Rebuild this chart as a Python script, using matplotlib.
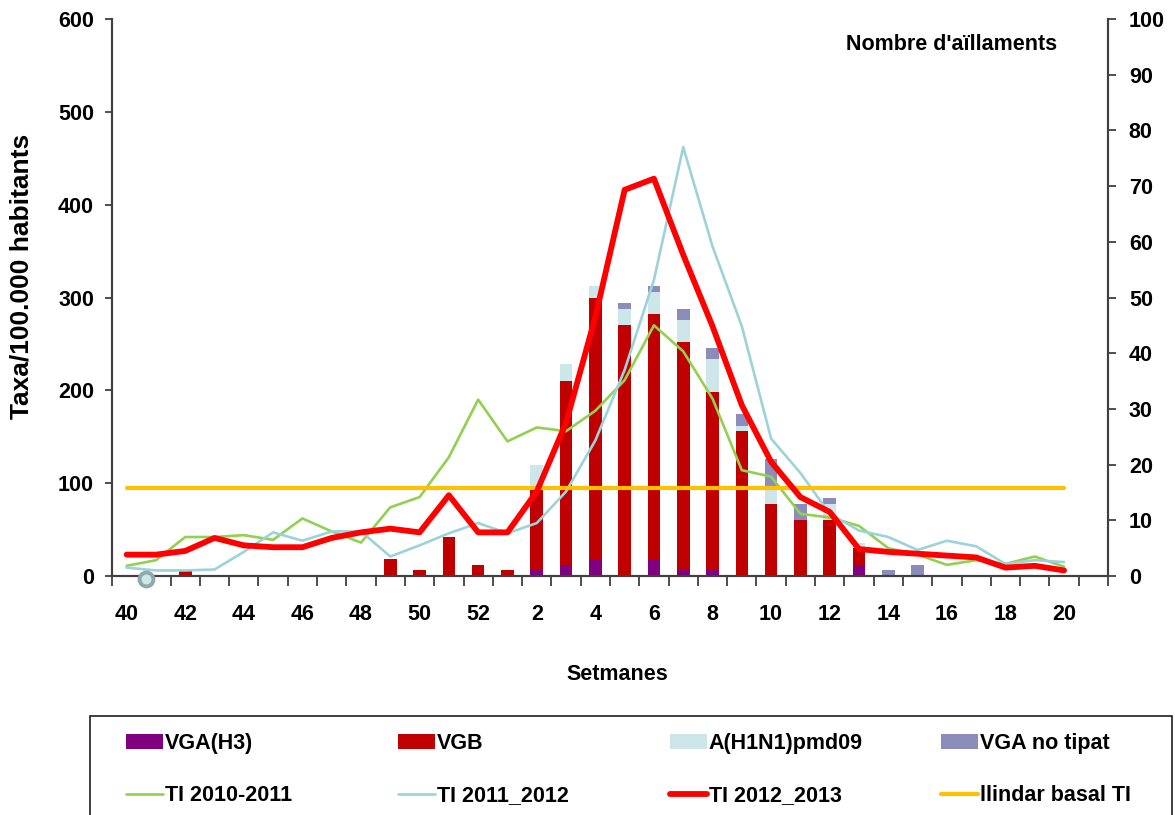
import numpy as np
import matplotlib
matplotlib.use('Agg')
import matplotlib.pyplot as plt
from matplotlib.patches import Rectangle

plt.rcParams['font.family'] = ['Liberation Sans', 'DejaVu Sans']
plt.rcParams['font.weight'] = 'bold'

# weeks 40-52 of 2012 and 1-21 of 2013 (week 21 is an empty slot)
weeks = list(range(40, 53)) + list(range(1, 22))

# rates per 100.000 inhabitants, weeks 40..20
ti_2010_2011 = [11, 17, 42, 42, 44, 39, 62, 48, 36, 74, 85, 128, 190,
                145, 160, 156, 178, 211, 270, 242, 191, 114, 107,
                67, 63, 54, 30, 23, 12, 17, 13, 21, 10]
ti_2011_2012 = [9, 6, 6, 7, 26, 47, 38, 48, 48, 21, 33, 46, 57,
                46, 57, 91, 146, 222, 319, 462, 355, 269, 148,
                111, 67, 49, 42, 28, 38, 32, 13, 17, 15]
ti_2012_2013 = [23, 23, 27, 41, 33, 31, 31, 41, 47, 51, 47, 87, 47,
                47, 91, 165, 279, 416, 428, 346, 269, 184, 123,
                85, 69, 29, 26, 24, 22, 20, 9, 11, 6]
basal = [95] * 33

# number of isolates, weeks 40..20
vga_h3 = [0] * 14 + [1, 2, 3, 0, 3, 1, 1, 0, 0, 0, 0, 2, 0, 0, 0, 0, 0, 0, 0]
vgb = [0, 0, 1, 0, 0, 0, 0, 0, 0, 3, 1, 7, 2, 1,
       15, 33, 47, 45, 44, 41, 32, 26, 13, 10, 10, 3, 0, 0, 0, 0, 0, 0, 0]
h1n1 = [0] * 14 + [4, 3, 2, 3, 4, 4, 6, 1, 3, 0, 3, 1, 0, 0, 0, 0, 0, 0, 0]
vga_nt = [0] * 14 + [0, 0, 0, 1, 1, 2, 2, 2, 5, 3, 1, 0, 1, 2, 0, 0, 0, 0, 0]

stray_x = [0.66]
stray_y = [-3]

fig = plt.figure(figsize=(11.75, 8.15), dpi=100)
ax = fig.add_axes([112 / 1175, 1 - 576 / 815, 996 / 1175, 557 / 815])
ax2 = ax.twinx()
ax.set_zorder(ax2.get_zorder() + 1)
ax.patch.set_visible(False)

x = np.arange(33)
w = 0.43
b1 = np.array(vga_h3)
b2 = b1 + np.array(vgb)
b3 = b2 + np.array(h1n1)
ax2.bar(x, vga_h3, w, color='#800080', label='VGA(H3)')
ax2.bar(x, vgb, w, bottom=b1, color='#C00000', label='VGB')
ax2.bar(x, h1n1, w, bottom=b2, color='#CCE6EA', label='A(H1N1)pmd09')
ax2.bar(x, vga_nt, w, bottom=b3, color='#8C8CBA', label='VGA no tipat')

kw = dict(solid_joinstyle='round', solid_capstyle='round')
ax.plot(x, ti_2010_2011, color='#92D050', lw=1.9, label='TI 2010-2011', **kw)
ax.plot(x, ti_2011_2012, color='#9CD3DA', lw=1.9, label='TI 2011_2012', **kw)
ax.plot(x, basal, color='#FFC000', lw=3.0, label='llindar basal TI', **kw)
ax.plot(x, ti_2012_2013, color='#FF0000', lw=4.2, label='TI 2012_2013', **kw)
ax.plot(stray_x, stray_y, 'o', ms=10, mfc='#CFE6E9', mec='#8FA8AC', mew=2.8,
        clip_on=False, zorder=5)

ax.set_xlim(-0.5, 33.5)
ax.set_ylim(0, 600)
ax2.set_ylim(0, 100)
ax.set_yticks(range(0, 601, 100))
ax2.set_yticks(range(0, 101, 10))

ax.set_xticks(np.arange(-0.5, 34, 1))
ax.set_xticklabels([])
lab_pos = list(range(0, 33, 2))
ax.set_xticks(lab_pos, minor=True)
ax.set_xticklabels([str(weeks[i]) for i in lab_pos], minor=True)
ax.tick_params(axis='x', which='major', length=7, width=1.3, color='#404040',
               direction='out')
ax.tick_params(axis='x', which='minor', length=0, pad=20, labelsize=15.5)
ax.tick_params(axis='y', length=5, width=1.3, color='#404040', pad=8,
               labelsize=15.5)
ax2.tick_params(axis='y', length=6, width=1.3, color='#404040', pad=9,
                labelsize=15.5)

for a in (ax, ax2):
    a.spines['top'].set_visible(False)
    for s in ('left', 'right', 'bottom'):
        a.spines[s].set_color('#404040')
        a.spines[s].set_linewidth(1.5)

fig.text(22 / 1175, 1 - 276 / 815, 'Taxa/100.000 habitants', rotation=90,
         ha='center', va='center', fontsize=19, fontweight='bold')
fig.text(617 / 1175, 1 - 675 / 815, 'Setmanes', ha='center', va='center',
         fontsize=15.5, fontweight='bold')
fig.text(952 / 1175, 1 - 45 / 815, "Nombre d'aïllaments", ha='center',
         va='center', fontsize=15.5, fontweight='bold')

# legend box
fig.patches.append(Rectangle((90 / 1175, -0.02), 1082 / 1175,
                             (1 - 716 / 815) + 0.02, transform=fig.transFigure,
                             fill=False, ec='#202020', lw=1.2))

h_bars, l_bars = ax2.get_legend_handles_labels()
h_lines, l_lines = ax.get_legend_handles_labels()
line_map = dict(zip(l_lines, h_lines))
row2 = ['TI 2010-2011', 'TI 2011_2012', 'TI 2012_2013', 'llindar basal TI']
col_x = [126, 398, 670, 941]
for k in range(4):
    leg = fig.legend([h_bars[k], line_map[row2[k]]], [l_bars[k], row2[k]],
                     loc='upper left', bbox_to_anchor=(col_x[k] / 1175, 1 - 733 / 815),
                     frameon=False, handlelength=1.7,
                     handleheight=0.65, handletextpad=0.1, borderpad=0,
                     borderaxespad=0, labelspacing=1.45,
                     prop={'weight': 'bold', 'size': 15.5})

fig.savefig('out.png', dpi=100)
